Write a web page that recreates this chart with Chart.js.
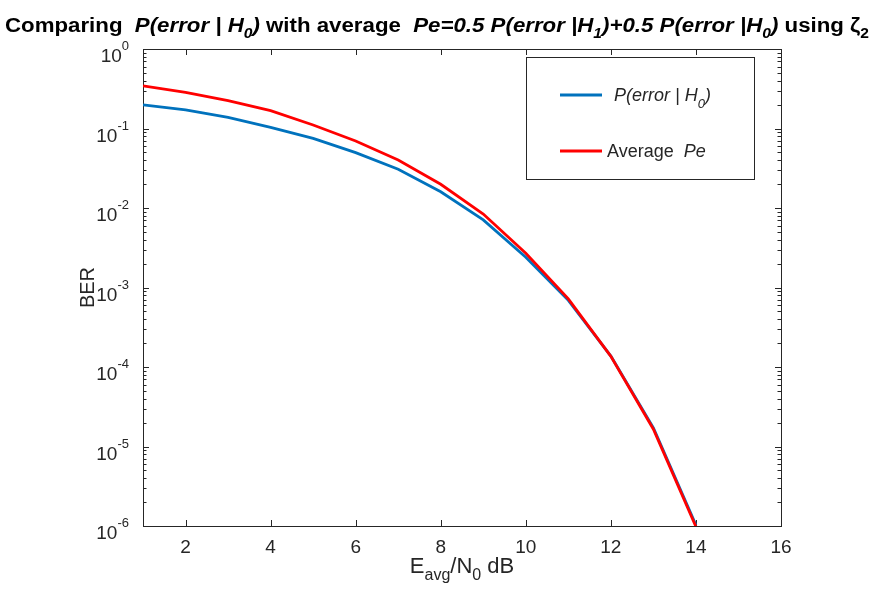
<!DOCTYPE html>
<html>
<head>
<meta charset="utf-8">
<script src="https://cdn.jsdelivr.net/npm/chart.js@4.4.1/dist/chart.umd.min.js"></script>
<style>
  body { margin: 0; background: #fff; }
</style>
</head>
<body>
<canvas id="canvas" width="876" height="589"></canvas>
<script>
// data
var snrDb = [1, 2, 3, 4, 5, 6, 7, 8, 9, 10, 11, 12, 13, 14];
var pErrorH0 = [0.198, 0.171, 0.138, 0.1035, 0.075, 0.0497, 0.0307, 0.016, 0.0071, 0.0024, 6.9e-4, 1.37e-4, 1.72e-5, 1.03e-6];
var pAverage = [0.343, 0.285, 0.224, 0.1675, 0.1107, 0.0696, 0.0402, 0.0199, 0.0084, 0.0027, 7.2e-4, 1.36e-4, 1.65e-5, 0.98e-6];
var xTicks = [2, 4, 6, 8, 10, 12, 14, 16];
var yExponents = [0, -1, -2, -3, -4, -5, -6];

var FONT = '"Liberation Sans", Arial, sans-serif';
var AXIS_COLOR = '#262626';

// draw a run of text pieces with their own font / vertical shift
function richWidth(ctx, segs) {
    var w = 0;
    segs.forEach(function (s) { ctx.font = s.f; w += ctx.measureText(s.t).width; });
    return w;
}
function drawRich(ctx, segs, x, y) {
    segs.forEach(function (s) {
        ctx.font = s.f;
        ctx.fillText(s.t, x, y + (s.dy || 0));
        x += ctx.measureText(s.t).width;
    });
}

var matlabAxes = {
    id: 'matlabAxes',
    beforeDatasetsDraw: function (chart) {
        var ctx = chart.ctx, a = chart.chartArea;
        var xs = chart.scales.x, ys = chart.scales.y;
        ctx.save();
        ctx.strokeStyle = AXIS_COLOR;
        ctx.lineWidth = 1;
        ctx.strokeRect(a.left + 0.5, a.top + 0.5, a.right - a.left, a.bottom - a.top);
        ctx.beginPath();
        xTicks.forEach(function (v) {
            var px = Math.round(xs.getPixelForValue(v)) + 0.5;
            ctx.moveTo(px, a.bottom); ctx.lineTo(px, a.bottom - 6);
            ctx.moveTo(px, a.top); ctx.lineTo(px, a.top + 6);
        });
        yExponents.forEach(function (e) {
            for (var m = 1; m <= 9; m++) {
                var v = m * Math.pow(10, e);
                if (v > 1 || v < 1e-6) continue;
                var py = Math.round(ys.getPixelForValue(v)) + 0.5;
                var len = m === 1 ? 6 : 3.5;
                ctx.moveTo(a.left, py); ctx.lineTo(a.left + len, py);
                ctx.moveTo(a.right, py); ctx.lineTo(a.right - len, py);
            }
        });
        ctx.stroke();
        ctx.restore();
    },
    afterDraw: function (chart) {
        var ctx = chart.ctx, a = chart.chartArea;
        var xs = chart.scales.x, ys = chart.scales.y;
        ctx.save();
        ctx.fillStyle = AXIS_COLOR;
        ctx.textBaseline = 'alphabetic';

        // x tick labels
        ctx.font = '19px ' + FONT;
        ctx.textAlign = 'center';
        xTicks.forEach(function (v) {
            ctx.fillText(String(v), xs.getPixelForValue(v), a.bottom + 27);
        });

        // y tick labels 10^n
        ctx.textAlign = 'left';
        yExponents.forEach(function (e) {
            var py = ys.getPixelForValue(Math.pow(10, e));
            var segs = [
                { t: '10', f: '19px ' + FONT, dy: 13 },
                { t: String(e), f: '13px ' + FONT, dy: 1 }
            ];
            var w = richWidth(ctx, segs);
            drawRich(ctx, segs, a.left - 14 - w, py);
        });

        // axis titles
        var xl = [
            { t: 'E', f: '22px ' + FONT },
            { t: 'avg', f: '16px ' + FONT, dy: 7 },
            { t: '/N', f: '22px ' + FONT },
            { t: '0', f: '16px ' + FONT, dy: 7 },
            { t: ' dB', f: '22px ' + FONT }
        ];
        var xw = richWidth(ctx, xl);
        drawRich(ctx, xl, (a.left + a.right) / 2 - xw / 2, a.bottom + 47);

        ctx.save();
        ctx.translate(a.left - 49, (a.top + a.bottom) / 2);
        ctx.rotate(-Math.PI / 2);
        ctx.textAlign = 'center';
        ctx.font = '20px ' + FONT;
        ctx.fillText('BER', 0, 0);
        ctx.restore();

        // title (condensed like the original)
        ctx.fillStyle = '#000';
        var B = 'bold 20px ' + FONT, BI = 'italic bold 20px ' + FONT, S = 'italic bold 14px ' + FONT, SB = 'bold 14px ' + FONT;
        var title = [
            { t: 'Comparing  ', f: B },
            { t: 'P(error | H', f: BI },
            { t: '0', f: S, dy: 6 },
            { t: ') ', f: BI },
            { t: 'with average  ', f: B },
            { t: 'Pe=0.5 P(error |H', f: BI },
            { t: '1', f: S, dy: 6 },
            { t: ')+0.5 P(error |H', f: BI },
            { t: '0', f: S, dy: 6 },
            { t: ') ', f: BI },
            { t: 'using ', f: B },
            { t: '\u03B6', f: B },
            { t: '2', f: SB, dy: 6 }
        ];
        var tw = richWidth(ctx, title);
        ctx.save();
        ctx.translate(5, 32);
        ctx.scale(864 / tw, 1);
        drawRich(ctx, title, 0, 0);
        ctx.restore();

        // legend box
        var lx = a.right - 27, lw = 228, ly = a.top + 8, lh = 122;
        ctx.fillStyle = '#fff';
        ctx.fillRect(lx - lw, ly, lw, lh);
        ctx.strokeStyle = AXIS_COLOR;
        ctx.lineWidth = 1;
        ctx.strokeRect(lx - lw + 0.5, ly + 0.5, lw, lh);
        var entries = [
            { color: '#0072BD', y: ly + 38, segs: [
                { t: 'P(error | H', f: 'italic 18px ' + FONT },
                { t: '0', f: 'italic 13px ' + FONT, dy: 7 },
                { t: ')', f: 'italic 18px ' + FONT }
            ], tx: lx - lw + 88 },
            { color: '#FF0000', y: ly + 94, segs: [
                { t: 'Average  ', f: '18px ' + FONT },
                { t: 'Pe', f: 'italic 18px ' + FONT }
            ], tx: lx - lw + 81 }
        ];
        entries.forEach(function (en) {
            ctx.strokeStyle = en.color;
            ctx.lineWidth = 2.8;
            ctx.beginPath();
            ctx.moveTo(lx - lw + 34, en.y); ctx.lineTo(lx - lw + 76, en.y);
            ctx.stroke();
            ctx.fillStyle = AXIS_COLOR;
            drawRich(ctx, en.segs, en.tx, en.y + 6);
        });
        ctx.restore();
    }
};

var ctx = document.getElementById('canvas').getContext('2d');
var berChart = new Chart(ctx, {
    type: 'line',
    data: {
        labels: snrDb,
        datasets: [{
            label: 'P(error | H0)',
            data: snrDb.map(function (x, i) { return { x: x, y: pErrorH0[i] }; }),
            borderColor: '#0072BD',
            borderWidth: 2.8,
            pointRadius: 0,
            tension: 0,
            order: 2
        }, {
            label: 'Average Pe',
            data: snrDb.map(function (x, i) { return { x: x, y: pAverage[i] }; }),
            borderColor: '#FF0000',
            borderWidth: 2.8,
            pointRadius: 0,
            tension: 0,
            order: 1
        }]
    },
    options: {
        responsive: false,
        animation: false,
        layout: { padding: { left: 143, right: 95, top: 49, bottom: 63 } },
        plugins: { legend: { display: false }, tooltip: { enabled: false } },
        scales: {
            x: { type: 'linear', min: 1, max: 16, display: false },
            y: { type: 'logarithmic', min: 1e-6, max: 1, display: false }
        }
    },
    plugins: [matlabAxes]
});
</script>
</body>
</html>
